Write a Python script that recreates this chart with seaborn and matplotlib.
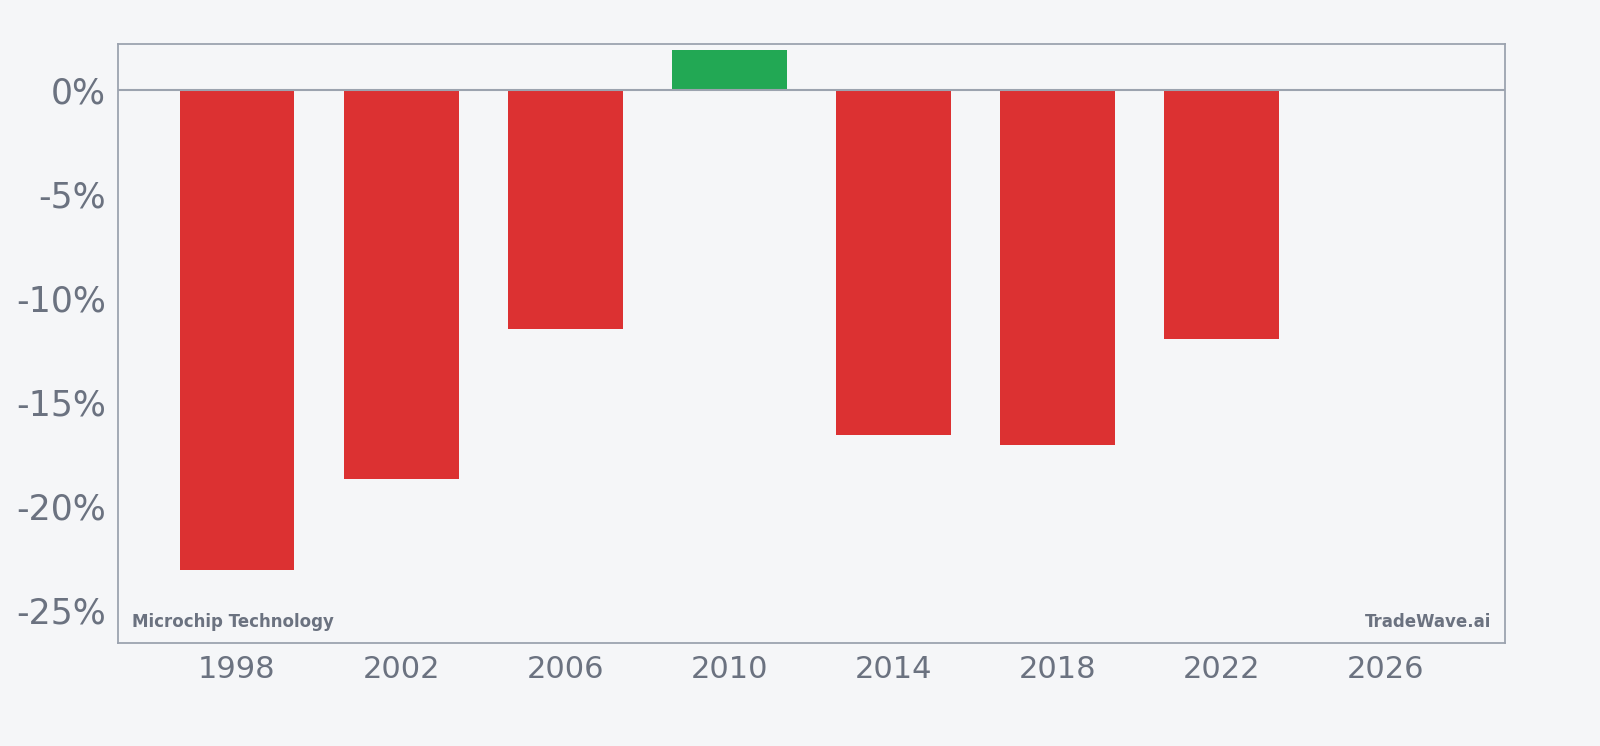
import matplotlib
matplotlib.use("Agg")
import matplotlib.pyplot as plt
import seaborn as sns
import pandas as pd

years = [1998, 2002, 2006, 2010, 2014, 2018, 2022]
returns = [-23.1, -18.7, -11.5, 1.9, -16.6, -17.1, -12.0]
xticks = [1998, 2002, 2006, 2010, 2014, 2018, 2022, 2026]
yticks = [0, -5, -10, -15, -20, -25]

bg = "#f5f6f8"
sns.set_theme(style="white")
plt.rcParams['font.family'] = ['DejaVu Sans']
df = pd.DataFrame({"year": years, "ret": returns,
                   "sign": ["pos" if r >= 0 else "neg" for r in returns]})

fig = plt.figure(figsize=(16, 7.46), dpi=100, facecolor=bg)
ax = fig.add_axes([0.07375, 0.138, 0.86685, 0.803])
ax.set_facecolor(bg)
sns.barplot(data=df, x="year", y="ret", hue="sign", native_scale=True,
            palette={"pos": "#22a854", "neg": "#dc3132"}, width=0.7,
            legend=False, ax=ax, saturation=1, linewidth=0)
ax.axhline(0, color="#9ca3af", lw=1.5)
ax.set_xlim(1995.1, 2028.9)
ax.set_ylim(-26.6, 2.2)
ax.set_xticks(xticks)
ax.set_xticklabels([str(t) for t in xticks])
ax.set_yticks(yticks)
ax.set_yticklabels([f"{t}%" for t in yticks])
ax.tick_params(axis="x", labelsize=22, colors="#6b7280", length=5, color="#9ca3af")
ax.tick_params(axis="y", labelsize=25, colors="#6b7280", length=5, color="#9ca3af")
ax.set_xlabel("")
ax.set_ylabel("")
for s in ax.spines.values():
    s.set_color("#9ca3af")
    s.set_linewidth(1.3)
ax.text(0.01, 0.02, "Microchip Technology", transform=ax.transAxes,
        fontsize=12, fontweight="bold", color="#6b7280", ha="left", va="bottom")
ax.text(0.99, 0.02, "TradeWave.ai", transform=ax.transAxes,
        fontsize=12, fontweight="bold", color="#6b7280", ha="right", va="bottom")
fig.savefig("out.png", dpi=100, facecolor=bg)
